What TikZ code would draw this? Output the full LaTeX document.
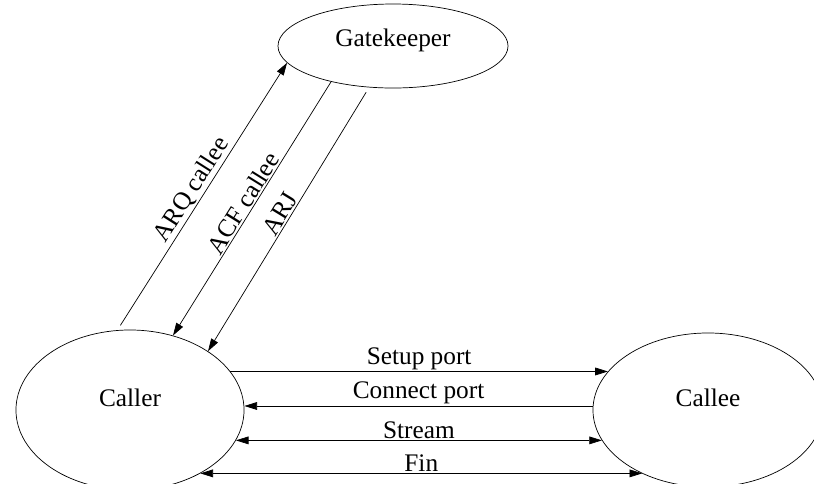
\documentclass[tikz,border=0pt]{standalone}
\usepackage{fontspec}
\setmainfont{Liberation Serif}
\usetikzlibrary{shapes.geometric,arrows.meta}
\begin{document}
\begin{tikzpicture}[x=0.025cm,y=-0.025cm,line width=0.5pt,
    party/.style={draw, ellipse, inner sep=0pt, text depth=18pt},
    lbl/.style={midway, above, inner sep=1pt},
    >={Triangle[length=9pt,width=5.5pt]},
    font=\fontsize{18}{21}\selectfont]
  \useasboundingbox (0,0) rectangle (814,483);
  \node [party, text depth=12pt, minimum width=5.75cm, minimum height=2.1cm] (gk) at (393,46) {Gatekeeper};
  \node [party, minimum width=5.7cm, minimum height=4cm] (caller) at (130,410) {Caller};
  \node [party, minimum width=5.75cm, minimum height=3.85cm] (callee) at (708,410) {Callee};
  % admission
  \draw [->, shorten <=4pt] (caller.99) -- node [lbl, sloped] {ARQ callee} (gk.189);
  \draw [->] (gk.210) -- node [lbl, sloped] {ACF callee} (caller.60);
  \draw [->, shorten <=4pt] (gk.240) -- node [lbl, sloped] {ARJ} (caller.37);
  % call
  \draw [->] (caller.21) -- node [lbl] {Setup port} (caller.21 -| callee.159);
  \draw [->] (callee.178) -- node [lbl] {Connect port} (callee.178 -| caller.east);
  \draw [<->] (caller.-16) -- node [lbl] {Stream} (caller.-16 -| callee.196);
  \draw [<->] (caller.-42) -- node [lbl] {Fin} (caller.-42 -| callee.224);
\end{tikzpicture}
\end{document}
